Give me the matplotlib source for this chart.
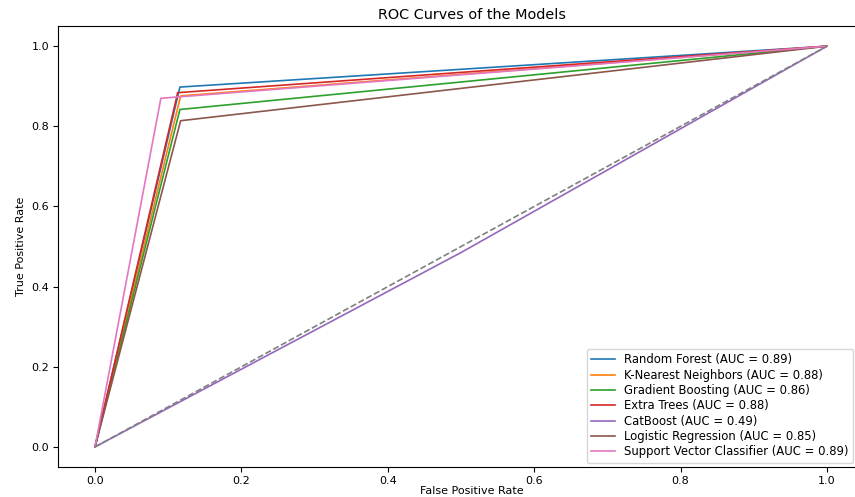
import matplotlib
matplotlib.use("Agg")
import matplotlib.pyplot as plt

# operating points (fpr, tpr) of each thresholded classifier
models = ["Random Forest", "K-Nearest Neighbors", "Gradient Boosting", "Extra Trees",
          "CatBoost", "Logistic Regression", "Support Vector Classifier"]
fpr_mid = [0.116, 0.117, 0.116, 0.113, 0.50, 0.117, 0.090]
tpr_mid = [0.898, 0.876, 0.842, 0.884, 0.485, 0.814, 0.870]
auc_scores = [0.89, 0.88, 0.86, 0.88, 0.49, 0.85, 0.89]

fig = plt.figure(figsize=(8.55, 4.97), dpi=100)
# the plotting area runs past the right border of the canvas
ax = fig.add_axes([0.0683, 0.0604, 0.9674, 0.887])

for name, f, t, a in zip(models, fpr_mid, tpr_mid, auc_scores):
    ax.plot([0, f, 1], [0, t, 1], lw=1.2, label=f"{name} (AUC = {a:.2f})")

ax.plot([0, 1], [0, 1], color="gray", linestyle="--", lw=1.2)

ax.set_xlim(-0.05, 1.08)
ax.set_ylim(-0.05, 1.05)
ax.set_xticks([0, 0.2, 0.4, 0.6, 0.8, 1.0])
ax.set_title("ROC Curves of the Models", fontsize=10.4, pad=5)
ax.set_xlabel("False Positive Rate", fontsize=8, labelpad=0)
ax.set_ylabel("True Positive Rate", fontsize=8)
ax.tick_params(labelsize=8, pad=3)
ax.legend(loc="lower right", fontsize=8.4, labelspacing=0.2,
          bbox_to_anchor=(853 / 855, 34 / 497), bbox_transform=fig.transFigure,
          borderaxespad=0)

fig.savefig("out.png", dpi=100)
